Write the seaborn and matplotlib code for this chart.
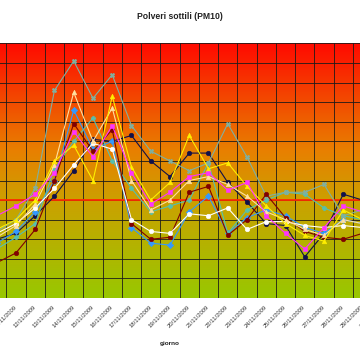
import matplotlib
matplotlib.use("Agg")
import matplotlib.pyplot as plt
import numpy as np
import pandas as pd
import seaborn as sns
from matplotlib.colors import LinearSegmentedColormap

# giorni (categorie)
giorni = ['08/11/2009', '09/11/2009', '10/11/2009', '11/11/2009', '12/11/2009',
          '13/11/2009', '14/11/2009', '15/11/2009', '16/11/2009', '17/11/2009',
          '18/11/2009', '19/11/2009', '20/11/2009', '21/11/2009', '22/11/2009',
          '23/11/2009', '24/11/2009', '25/11/2009', '26/11/2009', '27/11/2009',
          '28/11/2009', '29/11/2009', '30/11/2009']

# PM10 per stazione (ug/m3)
nero = [30, 28, 30, 33, 42, 52, 65, 81, 80, 83, 70, 62, 74, 74, 59, 49, 38, 37, 21, 33, 53, 50, 46]
blu = [26, 25, 28, 34, 44, 60, 96, 76, 80, 36, 28, 27, 44, 52, 33, 41, 45, 42, 36, 33, 40, 38, 35]
magenta = [40, 38, 42, 47, 53, 64, 85, 72, 88, 64, 48, 54, 62, 64, 55, 59, 42, 33, 25, 36, 47, 44, 40]
giallo = [33, 32, 35, 40, 50, 70, 78, 60, 103, 67, 50, 59, 83, 66, 69, 57, 47, 38, 32, 29, 45, 40, 37]
chiaro = [30, 29, 31, 37, 48, 68, 105, 80, 97, 60, 45, 50, 60, 62, 58, 52, 44, 40, 35, 32, 40, 38, 36]
bianco = [31, 30, 33, 38, 46, 56, 68, 79, 76, 40, 34, 33, 43, 42, 46, 35, 39, 39, 37, 36, 37, 36, 35]
bordeaux = [18, 17, 18, 23, 35, 60, 89, 75, 86, 38, 30, 31, 54, 57, 32, 40, 53, 41, 34, 31, 30, 33, 32]
grigio = [32, 31, 34, 40, 56, 106, 121, 102, 114, 88, 75, 70, 65, 69, 89, 72, 52, 54, 54, 58, 42, 45, 43]
verde = [24, 23, 25, 31, 38, 66, 80, 92, 70, 56, 44, 47, 50, 69, 33, 45, 50, 54, 53, 46, 42, 40, 38]

serie = {
    'nero': (nero, '#10104a', 'o'),
    'blu': (blu, '#3399ff', 'D'),
    'verde': (verde, '#55c0b0', 'P'),
    'grigio': (grigio, '#80b0a0', 'X'),
    'bordeaux': (bordeaux, '#800000', 'o'),
    'bianco': (bianco, '#ffffff', 'o'),
    'chiaro': (chiaro, '#ffe0a0', '^'),
    'giallo': (giallo, '#ffee00', '^'),
    'magenta': (magenta, '#ff33ff', 's'),
}

rows = []
for nome, (valori, _, _) in serie.items():
    for i, v in enumerate(valori):
        rows.append({'stazione': nome, 'idx': i, 'pm10': v})
df = pd.DataFrame(rows)

sns.set_style('white')
plt.rcParams['font.family'] = ['Liberation Sans', 'DejaVu Sans']

fig = plt.figure(figsize=(3.6, 3.6), dpi=100)
ax = fig.add_axes([-0.1428, 0.1722, 1.23, 0.7072])

n = len(giorni)
# sfondo sfumato
cmap = LinearSegmentedColormap.from_list(
    'pm', [(0.0, '#98c800'), (50 / 130, '#cca000'), (75 / 130, '#e88000'),
           (100 / 130, '#f24c00'), (1.0, '#ff0a00')])
grad = np.linspace(0, 1, 256).reshape(-1, 1)
ax.imshow(grad, cmap=cmap, origin='lower', aspect='auto',
          extent=[-0.5, n - 0.5, 0, 130], zorder=0)

for nome, (valori, col, mk) in serie.items():
    sub = df[df.stazione == nome]
    sns.lineplot(data=sub, x='idx', y='pm10', ax=ax, color=col, marker=mk,
                 markersize=3.3, markeredgecolor=col, markeredgewidth=0.4,
                 linewidth=0.8, zorder=4)

ax.axhline(50, color='#ff2a00', lw=1.3, zorder=3)

ax.set_xlim(-0.5, n - 0.5)
ax.set_ylim(0, 130)
ax.set_xticks(range(n))
ax.set_xticks(np.arange(-0.5, n, 1), minor=True)
ax.set_yticks(range(0, 131, 10))
ax.set_xticklabels(giorni, rotation=45, ha='right', va='center',
                   rotation_mode='anchor', fontsize=4.2, color='#333333')
ax.tick_params(axis='x', which='both', length=0, pad=6)
ax.tick_params(axis='y', labelleft=False, length=0)
ax.grid(True, which='minor', axis='x', color='#1a1a1a', lw=0.7, alpha=0.85)
ax.grid(True, which='major', axis='y', color='#1a1a1a', lw=0.7, alpha=0.85)
ax.grid(False, which='major', axis='x')
ax.set_axisbelow(False)
for s in ax.spines.values():
    s.set_visible(False)

ax.set_ylabel('')
ax.set_xlabel('giorno', fontsize=4.6, fontweight='bold', color='#222222')
ax.xaxis.set_label_coords(0.5, -0.17)

fig.text(0.5, 0.953, 'Polveri sottili (PM10)', ha='center', va='center',
         fontsize=6.2, fontweight='bold', color='#222222')

fig.savefig('out.png', dpi=100)
